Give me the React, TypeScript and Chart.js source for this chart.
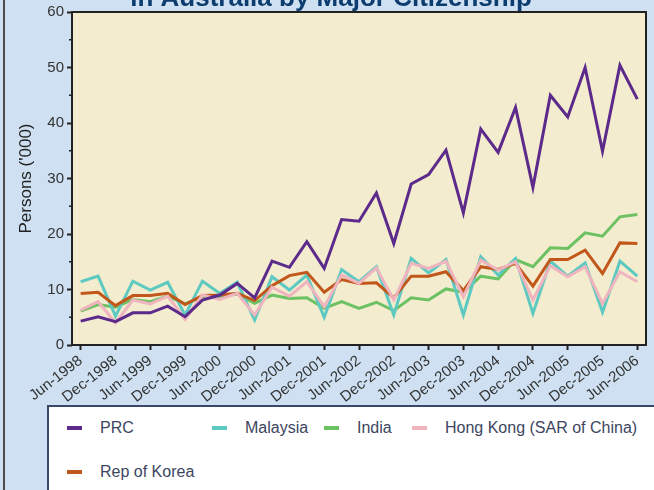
import React, { useEffect, useRef } from "react";
import { Chart, registerables } from "chart.js";

Chart.register(...registerables);

const quarters = [
  "Jun-1998", "Sep-1998", "Dec-1998",
  "Mar-1999", "Jun-1999", "Sep-1999", "Dec-1999",
  "Mar-2000", "Jun-2000", "Sep-2000", "Dec-2000",
  "Mar-2001", "Jun-2001", "Sep-2001", "Dec-2001",
  "Mar-2002", "Jun-2002", "Sep-2002", "Dec-2002",
  "Mar-2003", "Jun-2003", "Sep-2003", "Dec-2003",
  "Mar-2004", "Jun-2004", "Sep-2004", "Dec-2004",
  "Mar-2005", "Jun-2005", "Sep-2005", "Dec-2005",
  "Mar-2006", "Jun-2006",
];

const prc = [4.3, 5.1, 4.2, 5.8, 5.8, 7.0, 5.1, 8.1, 9.0, 11.1, 8.5, 15.1, 14.0, 18.6, 13.8, 22.6, 22.3, 27.4, 18.3, 29.0, 30.7, 35.1, 23.8, 38.9, 34.7, 42.8, 28.4, 45.0, 41.1, 50.0, 34.9, 50.4, 44.3];
const malaysia = [11.4, 12.4, 5.2, 11.5, 9.9, 11.3, 5.4, 11.5, 9.3, 11.3, 4.5, 12.3, 9.9, 12.6, 5.0, 13.6, 11.4, 14.1, 5.4, 15.6, 13.0, 15.4, 5.4, 15.9, 12.6, 15.6, 5.7, 15.1, 12.4, 14.8, 5.9, 15.1, 12.4];
const india = [6.1, 7.3, 6.8, 8.2, 7.8, 8.8, 7.4, 8.7, 8.7, 9.2, 7.5, 9.0, 8.4, 8.5, 6.6, 7.8, 6.6, 7.7, 6.2, 8.5, 8.1, 10.1, 9.5, 12.4, 11.9, 15.4, 14.1, 17.5, 17.4, 20.2, 19.6, 23.1, 23.5];
const hongKong = [6.3, 7.8, 4.0, 8.1, 7.4, 8.8, 4.6, 9.0, 8.2, 9.3, 5.4, 10.4, 8.8, 11.4, 6.9, 12.6, 11.1, 13.9, 8.1, 14.7, 13.8, 15.1, 8.7, 15.3, 13.5, 15.0, 8.1, 14.3, 12.3, 14.1, 7.5, 13.2, 11.4];
const korea = [9.3, 9.5, 7.1, 8.9, 8.9, 9.3, 7.3, 8.9, 9.0, 9.3, 8.0, 10.7, 12.5, 13.1, 9.5, 11.8, 11.1, 11.2, 8.5, 12.4, 12.4, 13.2, 9.8, 14.1, 13.6, 14.7, 10.6, 15.4, 15.4, 17.1, 12.9, 18.4, 18.3];

const seriesNames = ["PRC", "Malaysia", "India", "Hong Kong (SAR of China)", "Rep of Korea"];
const seriesColors = ["#5c2a8a", "#5ec9c0", "#6cc163", "#f0b4bf", "#c2571b"];
const yTickValues = [0, 10, 20, 30, 40, 50, 60];
const yMinorValues = [5, 15, 25, 35, 45, 55];
const titleText = "in Australia by Major Citizenship";
const yAxisTitle = "Persons ('000)";

const FONT = "'Liberation Sans', Arial, Helvetica, sans-serif";

// legend layout (positions only)
const legendSlots = [
  { x: 67, y: 428 },
  { x: 212, y: 428 },
  { x: 324, y: 428 },
  { x: 412, y: 428 },
  { x: 67, y: 472 },
];

export default function App() {
  const ref = useRef<HTMLCanvasElement>(null);

  useEffect(() => {
    const canvas = ref.current;
    if (!canvas) return;
    const series = [prc, malaysia, india, hongKong, korea];
    const drawOrder = [0, 3, 4, 1, 2];

    const decor = {
      id: "decor",
      beforeDraw(chart: any) {
        const { ctx, chartArea: a } = chart;
        ctx.save();
        ctx.font = `bold 26px ${FONT}`;
        ctx.fillStyle = "#0c3d6e";
        ctx.textAlign = "center";
        ctx.textBaseline = "alphabetic";
        ctx.fillText(titleText, 331, 6);
        ctx.fillStyle = "#f3ecce";
        ctx.fillRect(a.left, a.top, a.right - a.left, a.bottom - a.top);
        ctx.restore();
      },
      afterDraw(chart: any) {
        const { ctx, chartArea: a, scales } = chart;
        ctx.save();
        ctx.strokeStyle = "#222";
        ctx.lineWidth = 2;
        ctx.strokeRect(a.left, a.top, a.right - a.left, a.bottom - a.top);
        ctx.lineWidth = 1.5;
        for (const v of yMinorValues) {
          const y = scales.y.getPixelForValue(v);
          ctx.beginPath();
          ctx.moveTo(a.left - 3, y);
          ctx.lineTo(a.left, y);
          ctx.stroke();
        }
        ctx.restore();
      },
    };

    const chart = new Chart(canvas, {
      type: "line",
      data: {
        labels: quarters,
        datasets: series.map((d, i) => ({
          label: seriesNames[i],
          data: d,
          borderColor: seriesColors[i],
          backgroundColor: seriesColors[i],
          borderWidth: 3,
          pointRadius: 0,
          tension: 0,
          fill: false,
          order: drawOrder[i],
        })),
      },
      options: {
        responsive: false,
        animation: false,
        devicePixelRatio: 1,
        layout: { padding: { top: 11, right: 8, bottom: 84, left: 0 } },
        plugins: {
          legend: { display: false },
          title: { display: false },
          tooltip: { enabled: false },
        },
        scales: {
          x: {
            type: "category",
            offset: true,
            border: { display: false },
            grid: {
              drawOnChartArea: false,
              drawTicks: true,
              tickLength: 5,
              tickWidth: 2,
              offset: false,
              tickColor: (c: any) => (c.index % 2 === 0 ? "#222" : "rgba(0,0,0,0)"),
            },
            ticks: {
              autoSkip: false,
              maxRotation: 38,
              minRotation: 38,
              padding: 2,
              color: "#333",
              font: { family: FONT, size: 15 },
              callback: (_v: any, i: number) => (i % 2 === 0 ? quarters[i] : ""),
            },
            afterFit: (s: any) => {
              s.height = 61;
            },
          },
          y: {
            min: 0,
            max: 60,
            border: { display: false },
            grid: {
              drawOnChartArea: false,
              drawTicks: true,
              tickLength: 5,
              tickWidth: 2,
              tickColor: "#222",
            },
            ticks: {
              padding: 3,
              color: "#333",
              font: { family: FONT, size: 15 },
            },
            afterBuildTicks: (s: any) => {
              s.ticks = yTickValues.map((v) => ({ value: v }));
            },
            title: {
              display: true,
              text: yAxisTitle,
              color: "#222",
              font: { family: FONT, size: 17 },
              padding: { top: 16, bottom: 0 },
            },
            afterFit: (s: any) => {
              s.width = 72;
            },
          },
        },
      },
      plugins: [decor],
    } as any);

    return () => chart.destroy();
  }, []);

  return (
    <div
      style={{
        position: "fixed",
        left: 0,
        top: 0,
        width: 654,
        height: 490,
        overflow: "hidden",
        background: "#cee0f1",
      }}
    >
      <div style={{ position: "absolute", left: 3, top: 0, width: 2, height: 490, background: "#4d4d4d" }} />
      <canvas ref={ref} width={654} height={490} style={{ position: "absolute", left: 0, top: 0, display: "block" }} />
      <div
        style={{
          position: "absolute",
          left: 47,
          top: 405,
          width: 700,
          height: 200,
          background: "#ffffff",
          border: "2px solid #3a4868",
          boxSizing: "border-box",
        }}
      />
      {seriesNames.map((name, i) => (
        <React.Fragment key={name}>
          <div
            style={{
              position: "absolute",
              left: legendSlots[i].x,
              top: legendSlots[i].y - 2,
              width: 15,
              height: 4,
              background: seriesColors[i],
            }}
          />
          <div
            style={{
              position: "absolute",
              left: legendSlots[i].x + 33,
              top: legendSlots[i].y - 10,
              height: 20,
              lineHeight: "20px",
              fontFamily: FONT,
              fontSize: 16,
              color: "#3c4660",
              whiteSpace: "nowrap",
            }}
          >
            {name}
          </div>
        </React.Fragment>
      ))}
    </div>
  );
}
